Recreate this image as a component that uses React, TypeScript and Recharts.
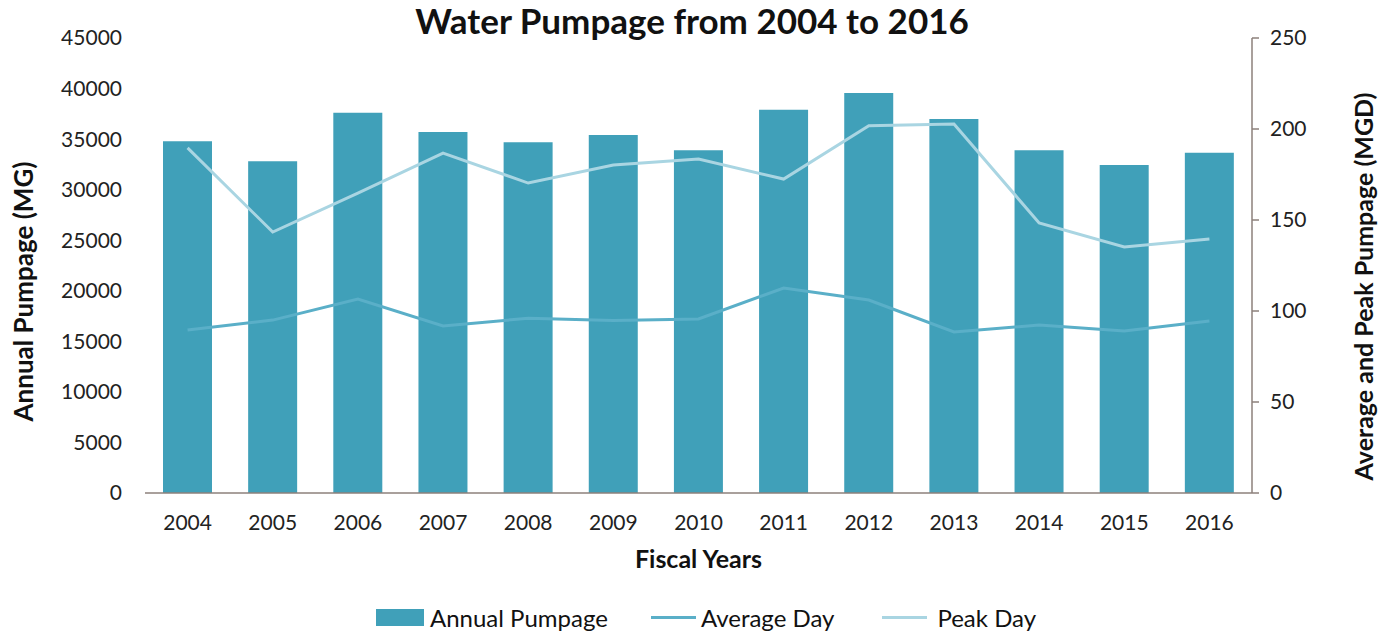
import React from 'react';
import { ComposedChart, Bar, Line, XAxis, YAxis, Legend, Label } from 'recharts';

const years = ['2004', '2005', '2006', '2007', '2008', '2009', '2010', '2011', '2012', '2013', '2014', '2015', '2016'];
const annualPumpage = [34800, 32800, 37600, 35700, 34700, 35400, 33900, 37900, 39550, 37000, 33900, 32450, 33650];
const averageDay = [89.6, 95, 106.6, 91.8, 96, 94.8, 95.6, 112.6, 106, 88.5, 92.3, 89, 94.5];
const peakDay = [189.6, 143.4, 164.8, 186.8, 170.3, 180.2, 183.5, 172.5, 201.8, 202.7, 148.4, 135.2, 139.6];
const leftTicks = [0, 5000, 10000, 15000, 20000, 25000, 30000, 35000, 40000, 45000];
const rightTicks = [0, 50, 100, 150, 200, 250];

const data = years.map((year, i) => ({
  year,
  annual: annualPumpage[i],
  average: averageDay[i],
  peak: peakDay[i],
}));

const FONT = 'Lato, "Open Sans", sans-serif';
const BAR = '#40a0b9';
const AVG = '#5aafc8';
const PEAK = '#a9d5e2';
const AXIS = '#8c807b';

const LegendContent = (props: any) => {
  const payload = props.payload || [];
  return (
    <div style={{ display: 'flex', alignItems: 'center', fontFamily: FONT, fontSize: 24, color: '#111' }}>
      {payload.map((p: any, i: number) => (
        <div key={i} style={{ display: 'flex', alignItems: 'center', marginRight: i === 0 ? 43 : 48 }}>
          {p.type === 'rect' ? (
            <div style={{ width: 48, height: 17, background: p.color, marginRight: 6 }} />
          ) : (
            <div style={{ width: 45, height: 3, background: p.color, marginRight: i === 2 ? 10 : 5 }} />
          )}
          <span>{p.value}</span>
        </div>
      ))}
    </div>
  );
};

const LeftLabel = (props: any) => {
  const vb = props.viewBox || { x: 0, y: 0, width: 0, height: 0 };
  const x = vb.x + 23;
  const y = vb.y + vb.height / 2 + 26;
  return (
    <text x={x} y={y} transform={`rotate(-90, ${x}, ${y})`} textAnchor="middle" dominantBaseline="central"
      style={{ fontFamily: FONT, fontSize: 26, fontWeight: 700, fill: '#111' }}>
      Annual Pumpage (MG)
    </text>
  );
};

const RightLabel = (props: any) => {
  const vb = props.viewBox || { x: 0, y: 0, width: 0, height: 0 };
  const x = vb.x + 111;
  const y = vb.y + vb.height / 2 + 21;
  return (
    <text x={x} y={y} transform={`rotate(-90, ${x}, ${y})`} textAnchor="middle" dominantBaseline="central"
      style={{ fontFamily: FONT, fontSize: 25, fontWeight: 700, fill: '#111' }}>
      Average and Peak Pumpage (MGD)
    </text>
  );
};

export default function App() {
  return (
    <div style={{ position: 'absolute', left: 0, top: 0, width: 1384, height: 637, background: '#fff' }}>
      <div style={{
        position: 'absolute', left: 0, top: -1, width: 1384, textAlign: 'center',
        fontFamily: FONT, fontWeight: 700, fontSize: 35, color: '#111',
      }}>
        Water Pumpage from 2004 to 2016
      </div>
      <ComposedChart width={1384} height={637} data={data} margin={{ top: 38, right: 0, bottom: 0, left: 0 }}>
        <XAxis dataKey="year" height={144} axisLine={{ stroke: AXIS, strokeWidth: 1.5 }} tickLine={false}
          tickSize={0} tickMargin={22} tick={{ fontFamily: FONT, fontSize: 21, fill: '#222' }} interval={0}>
          <Label value="Fiscal Years" position="insideTop" offset={57}
            style={{ fontFamily: FONT, fontSize: 25, fontWeight: 700, fill: '#111' }} />
        </XAxis>
        <YAxis yAxisId="left" width={145} domain={[0, 45000]} ticks={leftTicks} axisLine={false} tickLine={false}
          tickSize={0} tickMargin={23} tick={{ fontFamily: FONT, fontSize: 21, fill: '#222' }} interval={0}>
          <Label content={<LeftLabel />} />
        </YAxis>
        <YAxis yAxisId="right" orientation="right" width={132} domain={[0, 250]} ticks={rightTicks}
          axisLine={{ stroke: AXIS, strokeWidth: 1.5 }} tickLine={{ stroke: AXIS, strokeWidth: 1.5 }}
          tickSize={7} tickMargin={11} tick={{ fontFamily: FONT, fontSize: 21, fill: '#222' }} interval={0}>
          <Label content={<RightLabel />} />
        </YAxis>
        <Bar yAxisId="left" dataKey="annual" name="Annual Pumpage" fill={BAR} barSize={49} isAnimationActive={false} legendType="rect" />
        <Line yAxisId="right" dataKey="average" name="Average Day" stroke={AVG} strokeWidth={3} dot={false}
          isAnimationActive={false} type="linear" legendType="line" />
        <Line yAxisId="right" dataKey="peak" name="Peak Day" stroke={PEAK} strokeWidth={3} dot={false}
          isAnimationActive={false} type="linear" legendType="line" />
        <Legend verticalAlign="middle" layout="horizontal" content={<LegendContent />}
          wrapperStyle={{ position: 'absolute', top: 603, left: 376, width: 'auto' }} />
      </ComposedChart>
    </div>
  );
}
